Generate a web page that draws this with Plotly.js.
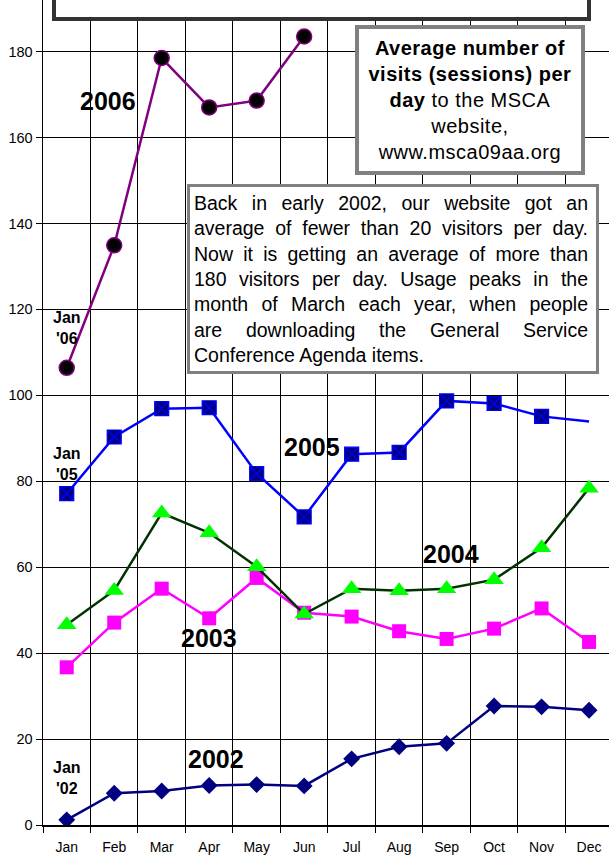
<!DOCTYPE html>
<html>
<head>
<meta charset="utf-8">
<script src="https://cdn.plot.ly/plotly-3.0.1.min.js"></script>
<style>
html,body{margin:0;padding:0;background:#fff;overflow:hidden;}
#chart{width:609px;height:856px;}
</style>
</head>
<body>
<div id="chart"></div>
<script>
const months = ["Jan","Feb","Mar","Apr","May","Jun","Jul","Aug","Sep","Oct","Nov","Dec"];
const months2006 = ["Jan","Feb","Mar","Apr","May","Jun"];
const visits2002 = [1.2, 7.4, 7.9, 9.2, 9.4, 9.1, 15.4, 18.2, 19.0, 27.7, 27.5, 26.7];
const visits2003 = [36.7, 47.1, 55.0, 48.1, 57.5, 49.4, 48.5, 45.1, 43.3, 45.7, 50.4, 42.6];
const visits2004 = [46.6, 54.6, 72.6, 68.0, 60.1, 49.1, 55.0, 54.5, 55.0, 57.1, 64.5, 78.4];
const visits2005 = [77.1, 90.3, 96.9, 97.1, 81.8, 71.7, 86.3, 86.7, 98.7, 98.1, 95.1, 93.9];
const visits2006 = [106.4, 134.9, 178.5, 167.0, 168.6, 183.5];
const seriesLabels = ["2002", "2003", "2004", "2005", "2006"];
const janLabels = ["Jan<br>'02", "Jan<br>'05", "Jan<br>'06"];
const legendText = "<b>Average number of</b><br><b>visits (sessions) per</b><br><b>day</b> to the MSCA<br>website,<br>www.msca09aa.org";
const noteLines = [
  "Back in early 2002, our website got an",
  "average of fewer than 20 visitors per day.",
  "Now it is getting an average of more than",
  "180 visitors per day. Usage peaks in the",
  "month of March each year, when people",
  "are downloading the General Service",
  "Conference Agenda items."
];

const FONT = "'Liberation Sans', Arial, sans-serif";

const traces = [
  {x: months, y: visits2002, type: "scatter", mode: "lines+markers", name: "2002",
   line: {color: "#000080", width: 2.5},
   marker: {symbol: "diamond", size: 13, color: "#000080"}},
  {x: months, y: visits2003, type: "scatter", mode: "lines+markers", name: "2003",
   line: {color: "#FF00FF", width: 2.5},
   marker: {symbol: "square", size: 14, color: "#FF00FF"}},
  {x: months, y: visits2004, type: "scatter", mode: "lines+markers", name: "2004",
   line: {color: "#003300", width: 2.5},
   marker: {symbol: "triangle-up", size: 17, color: "#00FF00"}},
  {x: months, y: visits2005, type: "scatter", mode: "lines+markers", name: "2005",
   line: {color: "#0000FF", width: 2.5},
   marker: {symbol: "square-x", size: 14, color: "#000080",
            opacity: months.map((m, i) => i === months.length - 1 ? 0 : 1),
            line: {color: "#0000FF", width: 1.2}}},
  {x: months2006, y: visits2006, type: "scatter", mode: "lines+markers", name: "2006",
   line: {color: "#800080", width: 2.5},
   marker: {symbol: "circle", size: 15, color: "#000000", line: {color: "#800080", width: 1.5}}}
];

function bigLabel(text, x, y) {
  return {text: text, x: x, y: y, xref: "x", yref: "y", showarrow: false,
          font: {family: FONT, size: 25, color: "#000"}, xanchor: "center", yanchor: "middle"};
}
function janLabel(text, x, y) {
  return {text: "<b>" + text.replace("<br>", "</b><br><b>") + "</b>", x: x, y: y, xref: "x", yref: "y",
          showarrow: false, font: {family: FONT, size: 16, color: "#000"},
          xanchor: "center", yanchor: "middle"};
}

const annotations = [
  bigLabel("<b>" + seriesLabels[4] + "</b>", 0.87, 168.4),
  bigLabel("<b>" + seriesLabels[3] + "</b>", 5.17, 88.0),
  bigLabel("<b>" + seriesLabels[2] + "</b>", 8.1, 63.0),
  bigLabel("<b>" + seriesLabels[1] + "</b>", 2.99, 43.5),
  bigLabel("<b>" + seriesLabels[0] + "</b>", 3.14, 15.3),
  janLabel(janLabels[2], 0.0, 115.6),
  janLabel(janLabels[1], 0.0, 84.0),
  janLabel(janLabels[0], 0.0, 10.9),
  {text: legendText, xref: "paper", yref: "paper", x: 0.7553, y: 0.8788,
   xanchor: "center", yanchor: "middle", showarrow: false, align: "center",
   width: 218, height: 138, bgcolor: "#fff", bordercolor: "#808080", borderwidth: 4, borderpad: 2,
   font: {family: FONT, size: 20, color: "#000"}},
  {text: noteLines.join("<br>"), xref: "paper", yref: "paper",
   x: (187 - 43) / 566, y: (825 - 184) / 825, xanchor: "left", yanchor: "top",
   showarrow: false, align: "left", width: 398, height: 176,
   bgcolor: "#fff", bordercolor: "#808080", borderwidth: 3, borderpad: 4,
   font: {family: FONT, size: 19.5, color: "#000"}}
];

const layout = {
  width: 609, height: 856,
  margin: {l: 43, r: 0, t: 0, b: 31, pad: 0},
  paper_bgcolor: "#fff", plot_bgcolor: "#fff",
  showlegend: false,
  font: {family: FONT, size: 14, color: "#000"},
  xaxis: {type: "category", categoryarray: months, range: [-0.5, 11.42],
          tickson: "boundaries", showgrid: true, gridcolor: "#000", gridwidth: 1,
          showline: true, linecolor: "#000", linewidth: 1.5,
          ticks: "outside", ticklen: 6, tickcolor: "#000", ticklabelstandoff: 9,
          tickfont: {family: FONT, size: 14, color: "#000"}, fixedrange: true, zeroline: false},
  yaxis: {range: [0, 192], dtick: 20, tick0: 0, showgrid: true, gridcolor: "#000", gridwidth: 1,
          showline: true, linecolor: "#000", linewidth: 1.5, zeroline: false,
          ticks: "outside", ticklen: 6, tickcolor: "#000",
          tickfont: {family: FONT, size: 14.5, color: "#000"}, fixedrange: true},
  shapes: [
    {type: "rect", xref: "paper", yref: "paper", x0: (54 - 43) / 566, x1: (589 - 43) / 566,
     y0: (825 - 19) / 825, y1: 1.05, fillcolor: "#fff", line: {color: "#333", width: 4}, layer: "above"}
  ],
  annotations: annotations
};

Plotly.newPlot("chart", traces, layout, {staticPlot: true, displayModeBar: false}).then(function (gd) {
  const texts = gd.querySelectorAll("text.annotation-text");
  texts.forEach(function (t) {
    if (t.textContent.indexOf("Average number") === 0) {
      t.style.letterSpacing = "0.5px";
      return;
    }
    if (t.textContent.indexOf("Back in early") !== 0) return;
    // justify the note text lines (all but the last)
    const lines = t.querySelectorAll("tspan.line");
    let target = 0;
    lines.forEach(function (ln) { target = Math.max(target, ln.getComputedTextLength()); });
    target = Math.max(target, 394);
    lines.forEach(function (ln, i) {
      if (i === lines.length - 1) return;
      const len = ln.getComputedTextLength();
      const spaces = (ln.textContent.match(/ /g) || []).length;
      if (spaces > 0) ln.style.wordSpacing = ((target - len) / spaces) + "px";
    });
  });
});
</script>
</body>
</html>
